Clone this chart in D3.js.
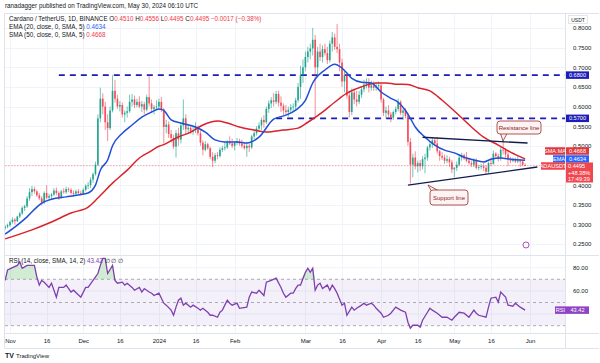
<!DOCTYPE html>
<html>
<head>
<meta charset="utf-8">
<script src="https://cdn.jsdelivr.net/npm/d3@7"></script>
<style>
  body { margin: 0; background: #fff; }
  svg { display: block; font-family: "Liberation Sans", Arial, sans-serif; }
</style>
</head>
<body>
<svg id="chart" width="600" height="363"></svg>
<script>
// ADA/USDT daily candles, [open, high, low, close], first row = 2023-10-30
const octCandles = [[.290,.298,.286,.294],[.294,.302,.290,.298]];
const novCandles = [
  [.298,.310,.294,.306],[.306,.318,.302,.312],[.312,.316,.300,.308],[.308,.322,.306,.320],[.320,.332,.316,.328],
  [.328,.346,.324,.342],[.342,.350,.334,.346],[.346,.372,.342,.366],[.366,.392,.360,.382],[.382,.398,.372,.390],
  [.390,.396,.378,.384],[.384,.388,.370,.374],[.374,.380,.362,.366],[.366,.372,.348,.356],[.356,.384,.352,.380],
  [.380,.400,.364,.368],[.368,.378,.360,.372],[.372,.380,.364,.376],[.376,.392,.372,.386],[.386,.394,.374,.380],
  [.380,.384,.362,.368],[.368,.388,.366,.384],[.384,.392,.378,.382],[.382,.396,.378,.390],[.390,.394,.382,.388],
  [.388,.392,.376,.380],[.380,.386,.370,.378],[.378,.388,.372,.384],[.384,.390,.376,.380],[.380,.386,.374,.378]
];
const decCandles = [
  [.378,.392,.376,.388],[.388,.402,.384,.398],[.398,.408,.390,.400],[.400,.420,.392,.414],[.414,.432,.406,.428],
  [.428,.460,.424,.452],[.452,.580,.448,.570],[.570,.648,.560,.620],[.620,.634,.580,.600],[.600,.612,.540,.560],
  [.560,.580,.512,.545],[.545,.600,.540,.590],[.590,.680,.585,.640],[.640,.668,.610,.620],[.620,.630,.594,.600],
  [.600,.614,.588,.604],[.604,.610,.572,.580],[.580,.590,.560,.584],[.584,.600,.572,.588],[.588,.630,.584,.612],
  [.612,.632,.600,.618],[.618,.628,.596,.604],[.604,.620,.598,.612],[.612,.626,.596,.600],[.600,.614,.586,.606],
  [.606,.612,.580,.592],[.592,.630,.588,.624],[.624,.680,.600,.608],[.608,.618,.584,.594],[.594,.604,.580,.598],
  [.598,.616,.590,.600]
];
const janCandles = [
  [.600,.620,.592,.612],[.612,.624,.586,.592],[.592,.596,.506,.548],[.548,.566,.532,.554],[.554,.562,.520,.530],
  [.530,.540,.508,.520],[.520,.528,.492,.498],[.498,.540,.470,.532],[.532,.546,.500,.516],[.516,.560,.506,.552],
  [.552,.618,.540,.570],[.570,.580,.530,.542],[.542,.556,.530,.546],[.546,.552,.530,.536],[.536,.552,.528,.540],
  [.540,.560,.532,.548],[.548,.552,.526,.532],[.532,.540,.500,.508],[.508,.514,.476,.490],[.490,.512,.486,.504],
  [.504,.508,.490,.494],[.494,.498,.466,.472],[.472,.484,.446,.462],[.462,.482,.456,.476],[.476,.484,.466,.474],
  [.474,.496,.470,.490],[.490,.500,.484,.494],[.494,.510,.488,.496],[.496,.514,.492,.510],[.510,.524,.502,.506],
  [.506,.518,.494,.500]
];
const febCandles = [
  [.500,.512,.488,.508],[.508,.520,.502,.512],[.512,.518,.500,.506],[.506,.516,.494,.500],[.500,.508,.490,.494],
  [.494,.510,.472,.500],[.500,.506,.484,.496],[.496,.528,.492,.524],[.524,.540,.516,.532],[.532,.550,.526,.544],
  [.544,.560,.536,.552],[.552,.572,.540,.566],[.566,.578,.546,.560],[.560,.600,.556,.594],[.594,.616,.584,.608],
  [.608,.624,.596,.616],[.616,.634,.600,.612],[.612,.640,.606,.632],[.632,.640,.600,.610],[.610,.626,.586,.602],
  [.602,.608,.578,.590],[.590,.604,.580,.586],[.586,.600,.574,.592],[.592,.606,.584,.598],[.598,.608,.588,.600],
  [.600,.622,.590,.616],[.616,.660,.610,.650],[.650,.704,.620,.680],[.680,.720,.660,.700]
];
const marCandles = [
  [.700,.740,.690,.726],[.726,.752,.712,.740],[.740,.760,.720,.748],[.748,.800,.730,.770],[.770,.782,.572,.700],
  [.700,.752,.680,.740],[.740,.760,.716,.726],[.726,.756,.712,.746],[.746,.760,.730,.736],[.736,.752,.708,.718],
  [.718,.768,.712,.760],[.760,.790,.740,.776],[.776,.786,.744,.752],[.752,.810,.736,.746],[.746,.760,.690,.712],
  [.712,.722,.650,.664],[.664,.690,.636,.680],[.680,.684,.620,.628],[.628,.640,.572,.586],[.586,.646,.578,.636],
  [.636,.646,.606,.618],[.618,.640,.600,.612],[.612,.640,.606,.630],[.630,.650,.622,.644],[.644,.668,.636,.656],
  [.656,.672,.646,.662],[.662,.672,.636,.648],[.648,.666,.640,.654],[.654,.664,.640,.648],[.648,.660,.640,.652],
  [.652,.664,.642,.654]
];
const aprCandles = [
  [.654,.660,.610,.618],[.618,.622,.576,.584],[.584,.600,.570,.590],[.590,.604,.572,.580],[.580,.586,.560,.572],
  [.572,.590,.566,.586],[.586,.600,.580,.594],[.594,.620,.588,.612],[.612,.616,.578,.584],[.584,.594,.566,.590],
  [.590,.596,.570,.576],[.576,.584,.500,.510],[.510,.520,.404,.452],[.452,.480,.420,.470],[.470,.486,.440,.448],
  [.448,.462,.432,.456],[.456,.464,.436,.448],[.448,.474,.440,.466],[.466,.480,.430,.470],[.470,.500,.462,.496],
  [.496,.512,.488,.504],[.504,.520,.494,.514],[.514,.520,.500,.506],[.506,.522,.480,.486],[.486,.490,.462,.474],
  [.474,.484,.464,.470],[.470,.478,.454,.462],[.462,.476,.456,.466],[.466,.472,.446,.458],[.458,.464,.430,.440]
];
const mayCandles = [
  [.440,.446,.420,.444],[.444,.460,.436,.452],[.452,.478,.448,.470],[.470,.482,.462,.476],[.476,.480,.464,.468],
  [.468,.484,.458,.462],[.462,.470,.452,.456],[.456,.462,.446,.452],[.452,.468,.446,.464],[.464,.468,.440,.444],
  [.444,.452,.438,.446],[.446,.454,.440,.448],[.448,.456,.436,.444],[.444,.450,.428,.434],[.434,.460,.430,.456],
  [.456,.470,.448,.454],[.454,.488,.452,.480],[.480,.484,.470,.474],[.474,.480,.460,.468],[.468,.496,.462,.490],
  [.490,.514,.478,.488],[.488,.494,.470,.478],[.478,.486,.448,.466],[.466,.472,.456,.462],[.462,.470,.458,.466],
  [.466,.470,.456,.460],[.460,.474,.456,.462],[.462,.466,.446,.460],[.460,.464,.448,.452],[.451,.4556,.4495,.4495]
];

// indicator readings, [days after 2023-11-01, value]
const ema20 = [[-2,.275],[3,.298],[7,.319],[11,.344],[13,.354],[17,.364],[23,.370],[28,.375],[32,.380],[35,.400],
  [37,.438],[40,.464],[42,.500],[46,.532],[50,.553],[54,.573],[58,.586],[61,.594],[63,.590],[66,.566],[70,.558],
  [76,.548],[80,.535],[84,.515],[88,.510],[93,.510],[97,.507],[102,.522],[108,.568],[113,.578],[117,.591],[121,.616],
  [124,.660],[129,.693],[133,.708],[136,.698],[140,.672],[144,.662],[148,.660],[152,.637],[156,.621],[159,.611],
  [162,.590],[164,.570],[166,.548],[170,.522],[174,.502],[178,.489],[182,.482],[186,.471],[190,.464],[194,.459],
  [197,.466],[201,.469],[205,.466],[211,.4634]];
const sma50 = [[-2,.263],[9,.286],[17,.306],[25,.329],[32,.344],[36,.367],[42,.405],[48,.438],[53,.469],[57,.484],
  [61,.499],[63,.503],[68,.520],[74,.535],[79,.553],[85,.563],[89,.558],[94,.548],[100,.540],[105,.535],[112,.540],
  [118,.545],[122,.560],[128,.586],[133,.611],[138,.634],[144,.650],[150,.660],[154,.660],[158,.657],[163,.656],
  [167,.648],[172,.640],[177,.616],[183,.583],[189,.548],[194,.522],[200,.502],[205,.484],[211,.4668]];
const rsi14 = [[-2,69],[-1,78],[1,80],[3,82],[4,85],[5,79.5],[7,82],[9,82],[10,82],[11,72],[12,65],[13,69],[14,67.5],
  [16,63],[17,66.6],[19,54.6],[20,63],[22,63],[23,65],[25,59],[26,60.6],[29,54.6],[31,63],[32,63],[34,69],[36,75],
  [37,82],[38,88],[39,88],[40,75],[42,82],[43,69],[44,66.6],[46,67.5],[47,65],[48,66.6],[50,63],[51,60.6],[53,63],
  [54,59],[55,62],[57,59],[58,58],[59,56],[61,58],[63,49.4],[64,47.7],[66,43.4],[67,39],[68,46],[69,52],[70,53.7],
  [71,47.7],[72,49.4],[74,46],[75,47.7],[77,45],[78,43.4],[79,45],[81,41.6],[82,39],[83,39],[85,37.3],[86,41.6],
  [87,43.4],[89,52],[90,49.4],[91,47.7],[93,49.4],[94,45],[97,46],[98,54.6],[99,59],[101,58],[102,60.6],[104,56],
  [105,67.5],[107,69],[109,71],[111,63],[112,58],[113,54.6],[115,58],[116,58],[117,62],[118,65],[119,65],[121,76],
  [122,79.5],[123,76],[124,79.5],[125,60.6],[126,65],[127,66.6],[128,62],[130,65],[131,60.6],[132,65],[133,62],
  [134,58],[136,47.7],[137,49.4],[138,39],[140,46],[141,43.4],[142,45],[144,47.7],[145,49.4],[146,47.7],[148,49.4],
  [149,47.7],[150,45],[152,40.8],[153,37.3],[155,39],[156,40.8],[157,43.4],[158,46],[160,43.4],[162,41.6],[163,33],
  [164,27.8],[165,30.4],[167,30.4],[168,28.7],[169,34.7],[171,41.6],[172,45],[173,43.4],[175,40.8],[176,39],
  [177,37.3],[179,37.3],[181,34.7],[182,37.3],[184,41.6],[186,40.8],[188,37.3],[190,43.4],[191,40.8],[192,39],
  [195,37.3],[196,46],[197,53.7],[199,54.6],[200,50.3],[201,59],[203,54.6],[204,47.7],[206,46.8],[207,49.4],
  [209,46],[211,43.42]];

// drawn levels and trendlines ([day, price])
const hLevels = [{ price: 0.68, fromDay: 20 }, { price: 0.57, fromDay: 109 }];
const resistanceLine = [[169, 0.522], [212, 0.507]];
const supportLine = [[163, 0.400], [216, 0.446]];

// 0.4500 and 40.00 sit under the price badges, so only their grid lines show
const priceTicks = [0.25, 0.30, 0.35, 0.40, 0.45, 0.50, 0.55, 0.60, 0.65, 0.70, 0.75, 0.80];
const hiddenPriceTicks = [0.45];
const rsiTicks = [80, 60];
const timeTicks = [["2023-11-01","Nov"],["2023-11-16","16"],["2023-12-01","Dec"],["2023-12-16","16"],
  ["2024-01-01","2024"],["2024-01-16","16"],["2024-02-01","Feb"],["2024-03-01","Mar"],["2024-03-16","16"],
  ["2024-04-01","Apr"],["2024-04-16","16"],["2024-05-01","May"],["2024-05-16","16"],["2024-06-01","Jun"]];

const last = { o: 0.4510, h: 0.4556, l: 0.4495, c: 0.4495, ema: 0.4634, sma: 0.4668, rsi: 43.42 };

// ---------------------------------------------------------------------------
const d3 = window.d3;
const svg = d3.select("#chart");
const pane = { left: 5, right: 565, top: 13, bottom: 255 };
const rsiPane = { top: 256, bottom: 333 };
const UP = "#089981", DOWN = "#f23645";
const day0 = new Date(2023, 10, 1);
const dayDate = d => d3.timeDay.offset(day0, d);
const parse = d3.timeParse("%Y-%m-%d");

const candles = [].concat(octCandles, novCandles, decCandles, janCandles, febCandles, marCandles, aprCandles, mayCandles)
  .map((c, i) => ({ date: d3.timeDay.offset(new Date(2023, 9, 30), i), o: c[0], h: c[1], l: c[2], c: c[3] }));

const x = d3.scaleTime().domain([day0, new Date(2024, 5, 1)]).range([10, 530]);
const y = d3.scaleLinear().domain([0.25, 0.80]).range([244, 28]);
const yR = d3.scaleLinear().domain([30, 70]).range([325.7, 279.3]);

const defs = svg.append("defs");
defs.append("clipPath").attr("id", "clipMain").append("rect")
  .attr("x", pane.left).attr("y", pane.top).attr("width", pane.right - pane.left).attr("height", pane.bottom - pane.top);
defs.append("clipPath").attr("id", "clipRsi").append("rect")
  .attr("x", pane.left).attr("y", rsiPane.top).attr("width", pane.right - pane.left).attr("height", rsiPane.bottom - rsiPane.top);

// grid
const grid = svg.append("g").attr("stroke", "#f0f3fa").attr("stroke-width", 1);
priceTicks.forEach(p => grid.append("line")
  .attr("x1", pane.left).attr("x2", pane.right).attr("y1", Math.round(y(p)) + 0.5).attr("y2", Math.round(y(p)) + 0.5));
timeTicks.forEach(t => {
  const xx = Math.round(x(parse(t[0]))) + 0.5;
  grid.append("line").attr("x1", xx).attr("x2", xx).attr("y1", pane.top).attr("y2", rsiPane.bottom);
});
[80, 60, 40].forEach(v => grid.append("line")
  .attr("x1", pane.left).attr("x2", pane.right).attr("y1", yR(v)).attr("y2", yR(v)));

// frame
const frame = svg.append("g").attr("stroke", "#e0e3eb").attr("stroke-width", 1);
frame.append("line").attr("x1", 4.5).attr("x2", 599).attr("y1", 13.5).attr("y2", 13.5);
frame.append("line").attr("x1", 4.5).attr("x2", 599).attr("y1", 255.5).attr("y2", 255.5);
frame.append("line").attr("x1", 4.5).attr("x2", 599).attr("y1", 333.5).attr("y2", 333.5);
frame.append("line").attr("x1", 4.5).attr("x2", 599).attr("y1", 348.5).attr("y2", 348.5);
frame.append("line").attr("x1", 4.5).attr("x2", 4.5).attr("y1", 13.5).attr("y2", 348.5);
frame.append("line").attr("x1", 565.5).attr("x2", 565.5).attr("y1", 13.5).attr("y2", 348.5);

// ---- main pane
const main = svg.append("g").attr("clip-path", "url(#clipMain)");

main.append("line")
  .attr("x1", pane.left).attr("x2", pane.right).attr("y1", y(last.c)).attr("y2", y(last.c))
  .attr("stroke", "#f7a1a7").attr("stroke-width", 1).attr("stroke-dasharray", "1.5,1.5");

hLevels.forEach(l => main.append("line")
  .attr("x1", x(dayDate(l.fromDay))).attr("x2", pane.right)
  .attr("y1", y(l.price)).attr("y2", y(l.price))
  .attr("stroke", "#1d1db8").attr("stroke-width", 1.6).attr("stroke-dasharray", "6,5"));

const cg = main.append("g");
cg.selectAll("line.wick").data(candles).enter().append("line")
  .attr("class", "wick")
  .attr("x1", d => x(d.date)).attr("x2", d => x(d.date))
  .attr("y1", d => y(d.h)).attr("y2", d => y(d.l))
  .attr("stroke", d => d.c >= d.o ? UP : DOWN).attr("stroke-width", 0.8).attr("opacity", 0.7);
cg.selectAll("rect.body").data(candles).enter().append("rect")
  .attr("class", "body")
  .attr("x", d => x(d.date) - 0.85).attr("width", 1.7)
  .attr("y", d => y(Math.max(d.o, d.c)))
  .attr("height", d => Math.max(0.8, Math.abs(y(d.o) - y(d.c))))
  .attr("fill", d => d.c >= d.o ? UP : DOWN).attr("opacity", 0.8);

const maLine = d3.line().curve(d3.curveMonotoneX).x(d => x(dayDate(d[0]))).y(d => y(d[1]));
main.append("path").attr("d", maLine(sma50)).attr("fill", "none").attr("stroke", "#d8232a").attr("stroke-width", 1.5);
main.append("path").attr("d", maLine(ema20)).attr("fill", "none").attr("stroke", "#1e4fd6").attr("stroke-width", 1.5);

// trendlines
[resistanceLine, supportLine].forEach(tl => main.append("line")
  .attr("x1", x(dayDate(tl[0][0]))).attr("y1", y(tl[0][1]))
  .attr("x2", x(dayDate(tl[1][0]))).attr("y2", y(tl[1][1]))
  .attr("stroke", "#131c4f").attr("stroke-width", 1.4));

// callouts
function callout(bx, by, bw, bh, tip, base, label) {
  const g = svg.append("g");
  g.append("path")
    .attr("d", `M${base[0]},${base[1]} L${tip[0]},${tip[1]} L${base[2]},${base[3]}`)
    .attr("fill", "#fdf3f3").attr("stroke", "#9b2c2c").attr("stroke-width", 0.8);
  g.append("rect").attr("x", bx).attr("y", by).attr("width", bw).attr("height", bh).attr("rx", 3)
    .attr("fill", "#fdf3f3").attr("stroke", "#9b2c2c").attr("stroke-width", 0.8);
  g.append("text").attr("x", bx + bw / 2).attr("y", by + bh / 2 + 2).attr("text-anchor", "middle")
    .attr("font-size", 6).attr("fill", "#8b1c1c").text(label);
}
callout(497, 121, 44, 13, [503, 141], [500.5, 133.6, 507, 133.6], "Resistance line");
callout(430, 190, 38, 15, [428, 185], [431, 190.4, 438, 190.4], "Support line");

svg.append("circle").attr("cx", 526).attr("cy", 245).attr("r", 3)
  .attr("fill", "#fff").attr("stroke", "#9c27b0").attr("stroke-width", 0.8);

// ---- RSI pane
const rg = svg.append("g").attr("clip-path", "url(#clipRsi)");
rg.append("rect").attr("x", pane.left).attr("width", pane.right - pane.left)
  .attr("y", yR(70)).attr("height", yR(30) - yR(70)).attr("fill", "#7e57c2").attr("opacity", 0.09);
[70, 50, 30].forEach(v => rg.append("line")
  .attr("x1", pane.left).attr("x2", pane.right).attr("y1", yR(v)).attr("y2", yR(v))
  .attr("stroke", "#9598a1").attr("stroke-width", 0.8).attr("stroke-dasharray", "3,3"));

const obArea = d3.area()
  .x(d => x(dayDate(d[0]))).y0(yR(70)).y1(d => yR(Math.max(70, d[1])));
rg.append("path").attr("d", obArea(rsi14)).attr("fill", "#4caf50").attr("opacity", 0.25);
const osArea = d3.area()
  .x(d => x(dayDate(d[0]))).y0(yR(30)).y1(d => yR(Math.min(30, d[1])));
rg.append("path").attr("d", osArea(rsi14)).attr("fill", "#f23645").attr("opacity", 0.2);

const rsiLine = d3.line().x(d => x(dayDate(d[0]))).y(d => yR(d[1]));
rg.append("path").attr("d", rsiLine(rsi14)).attr("fill", "none").attr("stroke", "#7e3fb0").attr("stroke-width", 1.3);

// ---- axes
const priceAxis = svg.append("g").attr("transform", "translate(568,0)")
  .call(d3.axisRight(y).tickValues(priceTicks.filter(p => !hiddenPriceTicks.includes(p)))
    .tickFormat(d3.format(".4f")).tickSize(0));
const rsiAxis = svg.append("g").attr("transform", "translate(568,0)")
  .call(d3.axisRight(yR).tickValues(rsiTicks).tickFormat(d3.format(".2f")).tickSize(0));
const timeAxis = svg.append("g").attr("transform", "translate(0,335)")
  .call(d3.axisBottom(x).tickValues(timeTicks.map(t => parse(t[0])))
    .tickFormat((d, i) => timeTicks[i][1]).tickSize(0));
[priceAxis, rsiAxis, timeAxis].forEach(a => {
  a.select(".domain").remove();
  a.selectAll("text").attr("font-size", 6).attr("fill", "#131722")
    .attr("font-family", "\"Liberation Sans\", Arial, sans-serif");
});
priceAxis.selectAll("text").attr("dx", 2);
rsiAxis.selectAll("text").attr("dx", 2);
timeAxis.selectAll("text").attr("dy", "0.9em");

// USDT box
svg.append("rect").attr("x", 568.5).attr("y", 15.5).attr("width", 19).attr("height", 8)
  .attr("fill", "#fff").attr("stroke", "#d1d4dc").attr("stroke-width", 0.6);
svg.append("text").attr("x", 578).attr("y", 21.5).attr("text-anchor", "middle")
  .attr("font-size", 5).attr("fill", "#131722").text("USDT");

// price badges
function badge(xx, yc, w, h, bg, label, fs) {
  svg.append("rect").attr("x", xx).attr("y", yc - h / 2).attr("width", w).attr("height", h).attr("fill", bg);
  svg.append("text").attr("x", xx + w / 2).attr("y", yc + 2).attr("text-anchor", "middle")
    .attr("font-size", fs || 5.6).attr("fill", "#fff").text(label);
}
hLevels.forEach(l => badge(566, y(l.price), 23, 7.5, "#1d1db8", d3.format(".4f")(l.price)));

badge(545, 151, 20, 7.5, "#e0393e", "SMA:MA");
badge(566, 151, 23, 7.5, "#e0393e", d3.format(".4f")(last.sma));
badge(553, 159, 12, 7.5, "#2962ff", "EMA");
badge(566, 159, 23, 7.5, "#2962ff", d3.format(".4f")(last.ema));
badge(541, 166, 24, 7.5, "#f0474f", "ADAUSDT");
svg.append("rect").attr("x", 566).attr("y", 162.5).attr("width", 27).attr("height", 20).attr("fill", "#f0474f");
svg.append("text").attr("x", 568).attr("y", 168).attr("font-size", 5.6).attr("fill", "#fff").text(d3.format(".4f")(last.c));
svg.append("text").attr("x", 568).attr("y", 174.5).attr("font-size", 5.6).attr("fill", "#fff").text("+48.38%");
svg.append("text").attr("x", 568).attr("y", 181).attr("font-size", 5.6).attr("fill", "#fff").text("17:49:39");

badge(555, yR(last.rsi), 11, 7.5, "#8e44c4", "RSI");
badge(566, yR(last.rsi), 23, 7.5, "#8e44c4", d3.format(".2f")(last.rsi));

// ---- header and legends
const txt = (xx, yy, fs) => svg.append("text").attr("x", xx).attr("y", yy).attr("font-size", fs).attr("fill", "#131722");
txt(5, 8, 6.3).text("ranadagger published on TradingView.com, May 30, 2024 06:10 UTC");

const f4 = d3.format(".4f");
const l1 = txt(9, 21, 6.3);
l1.append("tspan").text("Cardano / TetherUS, 1D, BINANCE  ");
[["O", last.o], ["H", last.h], ["L", last.l], ["C", last.c]].forEach(p => {
  l1.append("tspan").text(p[0]);
  l1.append("tspan").attr("fill", DOWN).text(f4(p[1]) + " ");
});
l1.append("tspan").attr("fill", DOWN).text("\u22120.0017 (\u22120.38%)");

const l2 = txt(9, 29, 6.3);
l2.append("tspan").text("EMA (20, close, 0, SMA, 5) ");
l2.append("tspan").attr("fill", "#2962ff").text(f4(last.ema));
const l3 = txt(9, 37, 6.3);
l3.append("tspan").text("SMA (50, close, 0, SMA, 5) ");
l3.append("tspan").attr("fill", DOWN).text(f4(last.sma));

const l4 = txt(9, 263, 6.3);
l4.append("tspan").text("RSI (14, close, SMA, 14, 2) ");
l4.append("tspan").attr("fill", "#7e3fb0").text(d3.format(".2f")(last.rsi));
l4.append("tspan").text("  \u2205  \u2205  \u2205");

// TradingView mark
txt(5, 358, 7).attr("font-weight", "bold").text("TV");
txt(16, 357.5, 6).text("TradingView");
</script>
</body>
</html>
